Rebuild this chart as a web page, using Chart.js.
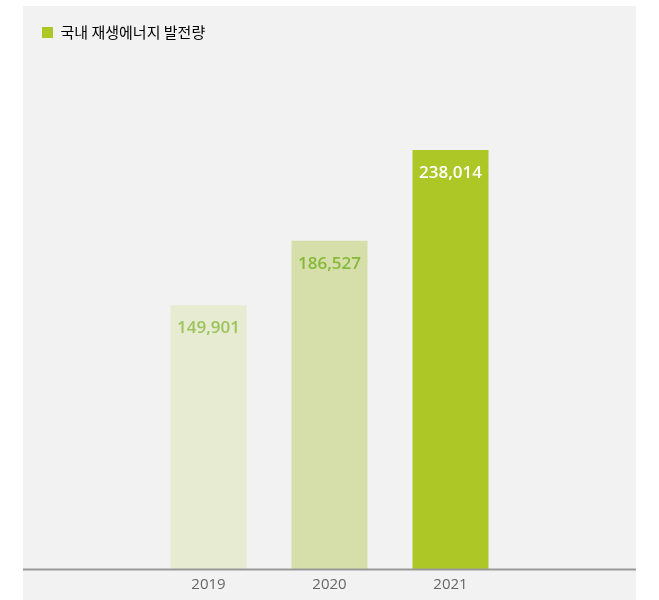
<!DOCTYPE html>
<html>
<head>
<meta charset="utf-8">
<script src="https://cdn.jsdelivr.net/npm/chart.js@4"></script>
<style>
  html, body { margin: 0; padding: 0; background: #ffffff; }
  #panel { position: absolute; left: 23px; top: 6px; width: 613px; height: 594px; background: #f2f2f2; }
  canvas { display: block; }
</style>
</head>
<body>
<div id="panel"><canvas id="c" width="613" height="594"></canvas></div>
<script>
const seriesName = '국내 재생에너지 발전량';
const categories = ['', '2019', '2020', '2021', ''];
const values = [null, 149901, 186527, 238014, null];
const valueLabels = ['', '149,901', '186,527', '238,014', ''];
const barColors = ['#e6ebd2', '#e6ebd2', '#d6dfa9', '#adc826', '#adc826'];
const labelColors = ['#9cc45a', '#9cc45a', '#86b83a', '#ffffff', '#ffffff'];
const legendColor = '#adc826';

const valueLabelPlugin = {
  id: 'valueLabels',
  afterDatasetsDraw(chart) {
    const ctx = chart.ctx;
    const meta = chart.getDatasetMeta(0);
    ctx.save();
    ctx.font = '600 17px "Open Sans", "Noto Sans", sans-serif';
    ctx.textAlign = 'center';
    ctx.textBaseline = 'middle';
    meta.data.forEach((bar, i) => {
      if (values[i] == null) return;
      ctx.fillStyle = labelColors[i];
      ctx.fillText(valueLabels[i], bar.x, bar.y + 23);
    });
    ctx.restore();
  }
};

const baselinePlugin = {
  id: 'baseline',
  afterDatasetsDraw(chart) {
    const ctx = chart.ctx;
    const y = chart.scales.y.getPixelForValue(0);
    ctx.save();
    ctx.strokeStyle = '#999999';
    ctx.lineWidth = 2;
    ctx.beginPath();
    ctx.moveTo(0, y);
    ctx.lineTo(chart.width, y);
    ctx.stroke();
    ctx.restore();
  }
};

new Chart(document.getElementById('c'), {
  type: 'bar',
  data: {
    labels: categories,
    datasets: [{
      label: seriesName,
      data: values,
      backgroundColor: barColors,
      borderWidth: 0,
      categoryPercentage: 1,
      barPercentage: 0.628
    }]
  },
  options: {
    responsive: false,
    animation: false,
    layout: { padding: { top: 4, left: 4, right: 4, bottom: 0 } },
    plugins: {
      tooltip: { enabled: false },
      legend: {
        display: true,
        position: 'top',
        align: 'start',
        labels: {
          boxWidth: 11,
          boxHeight: 11,
          padding: 15,
          color: '#555555',
          font: { family: '"Noto Sans CJK KR", "Noto Sans", sans-serif', size: 15 },
          generateLabels: () => [{
            text: seriesName,
            fillStyle: legendColor,
            strokeStyle: legendColor,
            lineWidth: 0,
            hidden: false,
            datasetIndex: 0
          }]
        }
      }
    },
    scales: {
      x: {
        grid: { display: false, drawTicks: false },
        border: { display: false },
        ticks: {
          color: '#666666',
          padding: 7,
          font: { family: '"Open Sans", "Noto Sans", sans-serif', size: 15, lineHeight: 1.1 }
        }
      },
      y: {
        display: false,
        min: 0,
        max: 294700
      }
    }
  },
  plugins: [valueLabelPlugin, baselinePlugin]
});
</script>
</body>
</html>
